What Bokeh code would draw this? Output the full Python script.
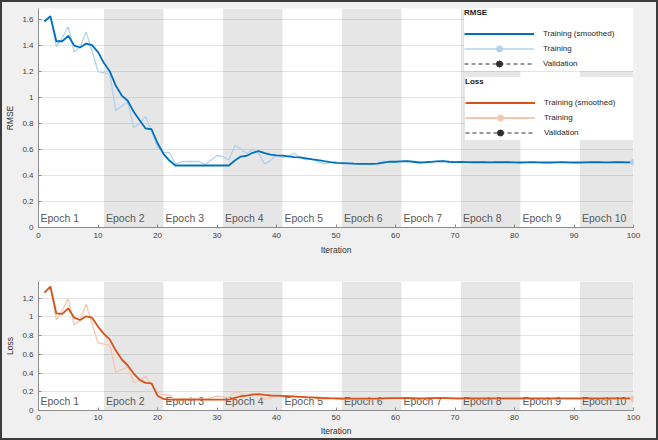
from bokeh.plotting import figure
from bokeh.models import Range1d, FixedTicker, BoxAnnotation, Legend, LegendItem, ColumnDataSource
from bokeh.layouts import column
from bokeh.embed import file_html
from bokeh.resources import INLINE
from bokeh.core.properties import value

# ---------------- data ----------------
ITER = list(range(1, 101))

RMSE_SMOOTH = [
    1.585, 1.625, 1.433, 1.433, 1.475, 1.400, 1.385, 1.415, 1.403, 1.350,
    1.265, 1.200, 1.090, 1.015, 0.975, 0.890, 0.825, 0.762, 0.756, 0.650,
    0.567, 0.515, 0.477, 0.477, 0.477, 0.477, 0.477, 0.477, 0.477, 0.477,
    0.477, 0.477, 0.515, 0.546, 0.552, 0.575, 0.587, 0.572, 0.560, 0.555,
    0.553, 0.547, 0.541, 0.540, 0.532, 0.524, 0.518, 0.510, 0.503, 0.498,
    0.496, 0.494, 0.491, 0.490, 0.490, 0.489, 0.491, 0.500, 0.507, 0.506,
    0.508, 0.510, 0.506, 0.500, 0.502, 0.505, 0.508, 0.510, 0.506, 0.503,
    0.504, 0.503, 0.502, 0.503, 0.502, 0.501, 0.502, 0.503, 0.502, 0.501,
    0.500, 0.501, 0.502, 0.501, 0.500, 0.500, 0.501, 0.502, 0.501, 0.500,
    0.500, 0.501, 0.502, 0.502, 0.501, 0.501, 0.502, 0.502, 0.501, 0.502,
]
RMSE_RAW = [
    1.585, 1.625, 1.392, 1.460, 1.545, 1.350, 1.390, 1.505, 1.360, 1.200,
    1.190, 1.180, 0.900, 0.935, 0.965, 0.770, 0.800, 0.855, 0.740, 0.620,
    0.580, 0.575, 0.490, 0.505, 0.508, 0.508, 0.508, 0.485, 0.520, 0.554,
    0.545, 0.520, 0.631, 0.605, 0.570, 0.605, 0.570, 0.490, 0.515, 0.556,
    0.540, 0.550, 0.572, 0.535, 0.520, 0.530, 0.505, 0.490, 0.500, 0.505,
    0.490, 0.495, 0.488, 0.486, 0.490, 0.488, 0.495, 0.510, 0.505, 0.503,
    0.510, 0.512, 0.502, 0.498, 0.505, 0.505, 0.510, 0.512, 0.503, 0.500,
    0.506, 0.502, 0.500, 0.504, 0.501, 0.499, 0.503, 0.504, 0.501, 0.499,
    0.499, 0.502, 0.503, 0.500, 0.499, 0.500, 0.502, 0.503, 0.500, 0.499,
    0.500, 0.502, 0.503, 0.502, 0.500, 0.501, 0.503, 0.502, 0.500, 0.502,
]
LOSS_SMOOTH = [
    1.257, 1.322, 1.035, 1.030, 1.090, 0.990, 0.965, 1.005, 0.990, 0.895,
    0.818, 0.755, 0.639, 0.544, 0.480, 0.394, 0.327, 0.295, 0.290, 0.158,
    0.123, 0.117, 0.115, 0.115, 0.115, 0.115, 0.115, 0.115, 0.115, 0.115,
    0.115, 0.115, 0.135, 0.152, 0.158, 0.170, 0.175, 0.166, 0.160, 0.158,
    0.156, 0.152, 0.148, 0.146, 0.142, 0.139, 0.136, 0.133, 0.131, 0.130,
    0.128, 0.127, 0.127, 0.126, 0.126, 0.126, 0.127, 0.129, 0.131, 0.131,
    0.132, 0.132, 0.131, 0.129, 0.130, 0.131, 0.132, 0.132, 0.131, 0.130,
    0.130, 0.130, 0.129, 0.130, 0.129, 0.129, 0.129, 0.130, 0.129, 0.129,
    0.129, 0.129, 0.130, 0.129, 0.129, 0.129, 0.129, 0.130, 0.129, 0.129,
    0.129, 0.129, 0.130, 0.130, 0.129, 0.129, 0.130, 0.130, 0.129, 0.130,
]
LOSS_RAW = [
    1.256, 1.320, 0.969, 1.066, 1.193, 0.911, 0.966, 1.133, 0.925, 0.720,
    0.708, 0.696, 0.405, 0.437, 0.466, 0.296, 0.320, 0.366, 0.274, 0.192,
    0.168, 0.165, 0.120, 0.128, 0.129, 0.129, 0.129, 0.118, 0.135, 0.153,
    0.149, 0.135, 0.199, 0.183, 0.162, 0.183, 0.162, 0.120, 0.133, 0.155,
    0.146, 0.151, 0.164, 0.143, 0.135, 0.140, 0.128, 0.120, 0.125, 0.128,
    0.120, 0.123, 0.119, 0.118, 0.120, 0.119, 0.123, 0.130, 0.128, 0.127,
    0.130, 0.131, 0.126, 0.124, 0.128, 0.128, 0.130, 0.131, 0.126, 0.125,
    0.128, 0.126, 0.125, 0.127, 0.125, 0.124, 0.126, 0.127, 0.125, 0.124,
    0.124, 0.126, 0.126, 0.125, 0.124, 0.125, 0.126, 0.127, 0.125, 0.124,
    0.125, 0.126, 0.127, 0.126, 0.125, 0.125, 0.127, 0.126, 0.125, 0.126,
]

EPOCH_BOUNDS = [0, 11, 21, 31, 41, 51, 61, 71, 81, 91, 100]
EPOCH_LABELS = ["Epoch 1", "Epoch 2", "Epoch 3", "Epoch 4", "Epoch 5",
                "Epoch 6", "Epoch 7", "Epoch 8", "Epoch 9", "Epoch 10"]

X_TICKS = [0, 10, 20, 30, 40, 50, 60, 70, 80, 90, 100]
RMSE_TICKS = [0, 0.2, 0.4, 0.6, 0.8, 1.0, 1.2, 1.4, 1.6]
RMSE_TICK_LABELS = ["0", "0.2", "0.4", "0.6", "0.8", "1", "1.2", "1.4", "1.6"]
LOSS_TICKS = [0, 0.2, 0.4, 0.6, 0.8, 1.0, 1.2]
LOSS_TICK_LABELS = ["0", "0.2", "0.4", "0.6", "0.8", "1", "1.2"]
X_LIMITS = (0, 100)
RMSE_LIMITS = (0, 1.685)
LOSS_LIMITS = (0, 1.376)

# ---------------- style ----------------
FONT = "Liberation Sans"
BG = "#f0f0f0"
BAND = "#e6e6e6"
BLUE = "#0072bd"
BLUE_L = "#b3d1ec"
ORANGE = "#d95319"
ORANGE_L = "#f5c6b0"
VAL = "#303030"
NAN = float("nan")

BORDER = 2
W = 658 - 2 * BORDER
H_TOP, H_BOT = 268, 168
B_LEFT, B_RIGHT = 36, 23
TOP_BT, TOP_BB = 6, 43
BOT_BT, BOT_BB = 11, 26


def panel(height, ylim, yticks, ylabels, ylabel, b_top, b_bottom, lab_standoff):
    p = figure(width=W, height=height, x_range=Range1d(*X_LIMITS), y_range=Range1d(*ylim),
               output_backend="svg", toolbar_location=None,
               min_border_left=B_LEFT, min_border_right=B_RIGHT,
               min_border_top=b_top, min_border_bottom=b_bottom,
               background_fill_color="white", border_fill_color=BG,
               outline_line_color=None)
    p.xgrid.visible = False
    p.ygrid.ticker = FixedTicker(ticks=yticks)
    p.ygrid.grid_line_color = "#262626"
    p.ygrid.grid_line_alpha = 0.12
    p.xaxis.ticker = FixedTicker(ticks=X_TICKS)
    p.yaxis.ticker = FixedTicker(ticks=yticks)
    p.yaxis.major_label_overrides = {t: l for t, l in zip(yticks, ylabels)}
    p.xaxis.axis_label = "Iteration"
    p.yaxis.axis_label = ylabel
    for ax in (p.xaxis[0], p.yaxis[0]):
        ax.axis_line_color = "#8c8c8c"
        ax.major_tick_line_color = "#8c8c8c"
        ax.major_tick_in = 3
        ax.major_tick_out = 0
        ax.minor_tick_line_color = None
        ax.major_label_text_font = FONT
        ax.major_label_text_font_size = "8px"
        ax.major_label_text_color = "#404040"
        ax.axis_label_text_font = FONT
        ax.axis_label_text_font_size = "8.5px"
        ax.axis_label_text_font_style = "normal"
        ax.axis_label_text_color = "#303030"
    p.xaxis.major_label_standoff = 5 if lab_standoff > 3 else 4
    p.xaxis.axis_label_standoff = lab_standoff
    p.yaxis.major_label_standoff = 5
    p.yaxis.axis_label_standoff = 4

    boxes = []
    for i in range(1, len(EPOCH_LABELS), 2):
        boxes.append(BoxAnnotation(left=EPOCH_BOUNDS[i], right=EPOCH_BOUNDS[i + 1],
                                   fill_color=BAND, fill_alpha=1.0, line_color=None,
                                   level="underlay"))
    p.center = boxes + list(p.center)

    src = ColumnDataSource(dict(x=EPOCH_BOUNDS[:-1], y=[ylim[0]] * len(EPOCH_LABELS),
                                t=EPOCH_LABELS))
    p.text(x="x", y="y", text="t", source=src, x_offset=2, y_offset=-10,
           text_font=value(FONT), text_font_size="10.5px", text_color="#595959",
           text_baseline="middle", text_align="left")
    return p


top = panel(H_TOP, RMSE_LIMITS, RMSE_TICKS, RMSE_TICK_LABELS, "RMSE", TOP_BT, TOP_BB, 4)
bot = panel(H_BOT, LOSS_LIMITS, LOSS_TICKS, LOSS_TICK_LABELS, "Loss", BOT_BT, BOT_BB, 3)

# top curves
r_raw = top.line(ITER, RMSE_RAW, line_color=BLUE_L, line_width=1.3)
r_sm = top.line(ITER, RMSE_SMOOTH, line_color=BLUE, line_width=1.8)
r_end = top.scatter([ITER[-1]], [RMSE_RAW[-1]], size=6, fill_color=BLUE_L, line_color=BLUE_L)

# bottom curves
bot.line(ITER, LOSS_RAW, line_color=ORANGE_L, line_width=1.3)
bot.line(ITER, LOSS_SMOOTH, line_color=ORANGE, line_width=1.8)
bot.scatter([ITER[-1]], [LOSS_RAW[-1]], size=6, fill_color=ORANGE_L, line_color=ORANGE_L)

# legend-only renderers (no validation data exists; loss keys live in the top legend)
v_line = top.line([NAN], [NAN], line_color=VAL, line_width=1.2, line_dash="4 3")
v_dot = top.scatter([NAN], [NAN], size=6, fill_color=VAL, line_color=VAL)
l_sm = top.line([NAN], [NAN], line_color=ORANGE, line_width=1.8)
l_raw = top.line([NAN], [NAN], line_color=ORANGE_L, line_width=1.8)
l_dot = top.scatter([NAN], [NAN], size=6, fill_color=ORANGE_L, line_color=ORANGE_L)

LEG2_X_FROM_RIGHT = 168
LEG2_BOTTOM_FROM_TOP = 132


def make_legend(title, items, location, title_standoff):
    return Legend(items=items, title=title, location=location, margin=0, padding=8,
                  glyph_width=70, glyph_height=15, label_height=15, label_width=90,
                  label_standoff=9, spacing=0, title_standoff=title_standoff,
                  label_text_font=FONT, label_text_font_size="8px", label_text_color="#262626",
                  title_text_font=FONT, title_text_font_size="8px",
                  title_text_font_style="bold", title_text_color="#1a1a1a",
                  background_fill_color="white", background_fill_alpha=1.0,
                  border_line_color=None)


frame_w = W - B_LEFT - B_RIGHT
frame_h = H_TOP - TOP_BT - TOP_BB
leg1 = make_legend("RMSE", [
    LegendItem(label="Training (smoothed)", renderers=[r_sm]),
    LegendItem(label="Training", renderers=[r_raw, r_end]),
    LegendItem(label="Validation", renderers=[v_line, v_dot]),
], "top_right", 9)
leg2 = make_legend("Loss", [
    LegendItem(label="Training (smoothed)", renderers=[l_sm]),
    LegendItem(label="Training", renderers=[l_raw, l_dot]),
    LegendItem(label="Validation", renderers=[v_line, v_dot]),
], (frame_w - LEG2_X_FROM_RIGHT, frame_h - LEG2_BOTTOM_FROM_TOP), 9)
top.add_layout(leg1)
top.add_layout(leg2)

layout = column(top, bot, spacing=0,
                styles={"border": "%dpx solid #3c3c3c" % BORDER, "background-color": BG})

open("out.html", "w").write(file_html(layout, INLINE))
